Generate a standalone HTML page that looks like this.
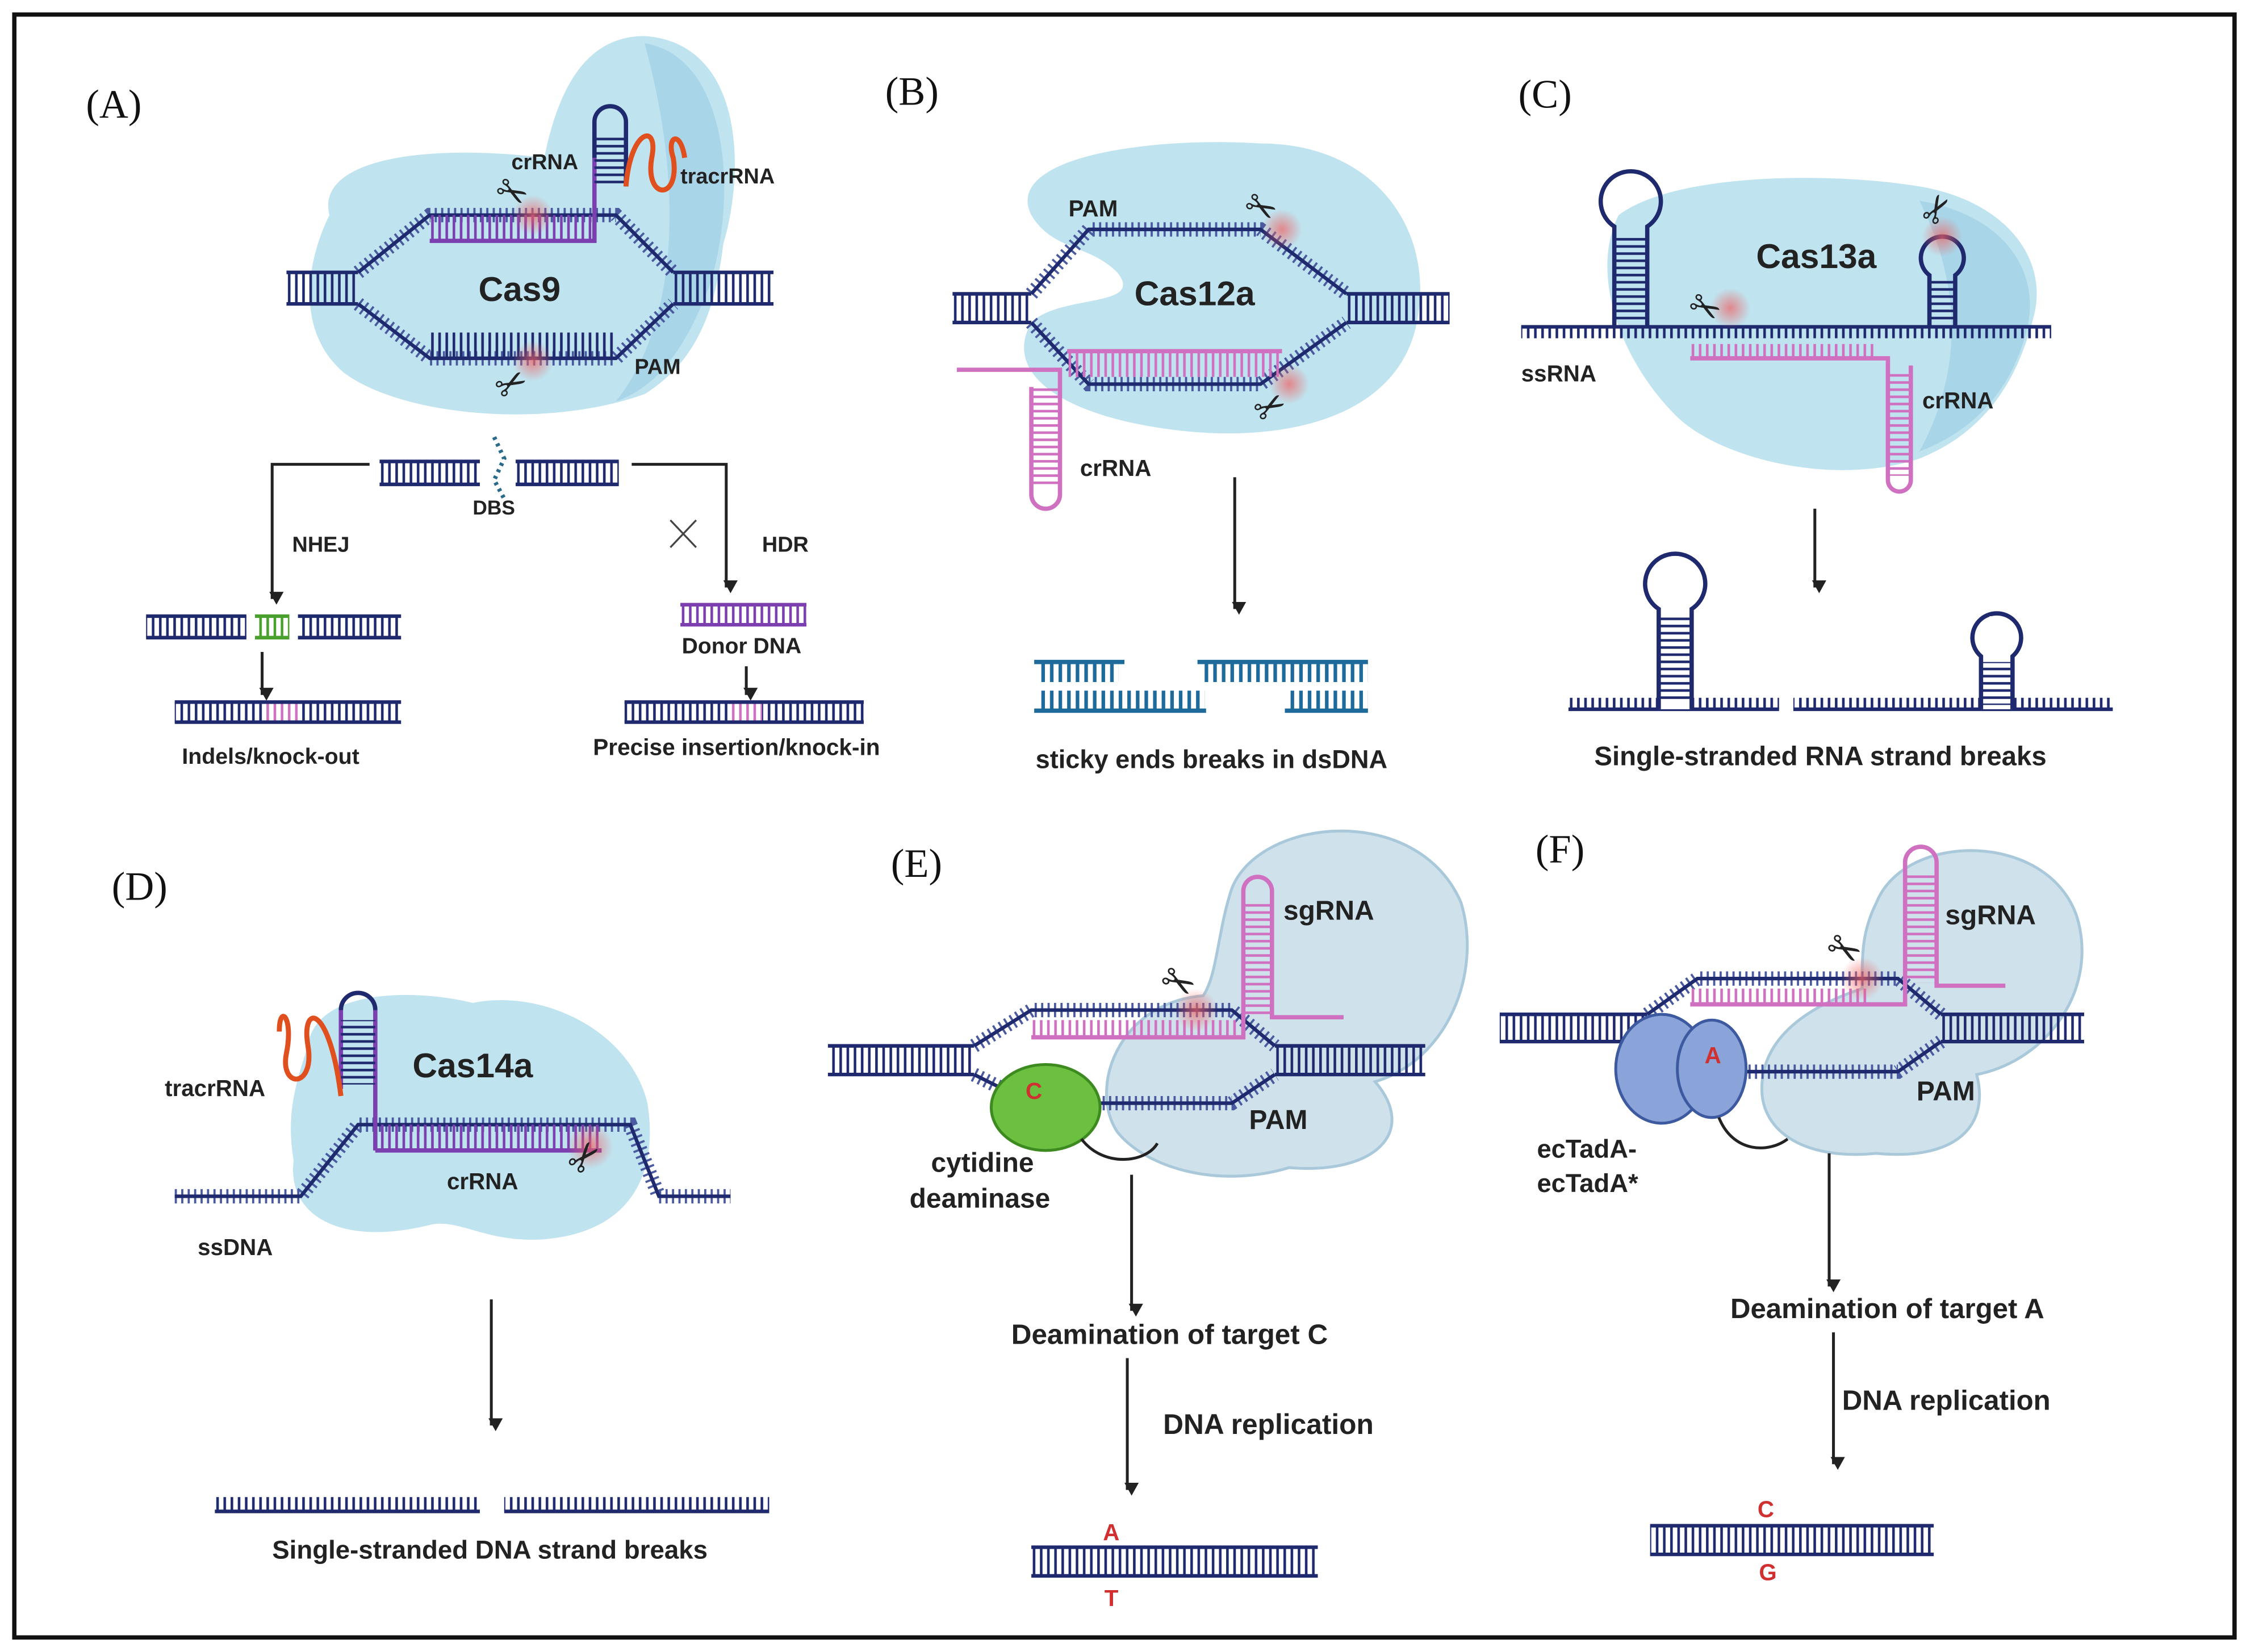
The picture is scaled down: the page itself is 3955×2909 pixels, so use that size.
<!DOCTYPE html>
<html><head><meta charset="utf-8"><style>
html,body{margin:0;padding:0;background:#fff}
svg{display:block}
text{font-family:"Liberation Sans",sans-serif;font-weight:bold;fill:#222}
.lab{font-family:"Liberation Serif",serif;font-weight:normal;font-size:28px;fill:#111}
.s{fill:none;stroke:#1f2a6e;stroke-width:2.5}
.t{fill:none;stroke:#4a5aa0;stroke-width:10;stroke-dasharray:1.5 3}
.ar{stroke:#222;stroke-width:2;fill:none;marker-end:url(#ah)}
</style></head><body>
<svg width="3955" height="2909" viewBox="0 0 1568 1153" xmlns="http://www.w3.org/2000/svg">
<defs>
<pattern id="pN" width="5" height="10" patternUnits="userSpaceOnUse"><rect x="1" width="1.8" height="10" fill="#1f2a6e"/></pattern>
<pattern id="pP" width="5" height="10" patternUnits="userSpaceOnUse"><rect x="1" width="1.8" height="10" fill="#d070c0"/></pattern>
<pattern id="pU" width="5" height="10" patternUnits="userSpaceOnUse"><rect x="1" width="1.8" height="10" fill="#7b3fb0"/></pattern>
<pattern id="pG" width="5" height="10" patternUnits="userSpaceOnUse"><rect x="1" width="1.8" height="10" fill="#4aa02c"/></pattern>
<pattern id="pB" width="6" height="10" patternUnits="userSpaceOnUse"><rect x="1" width="2.5" height="10" fill="#1e6a9a"/></pattern>
<pattern id="pH" width="10" height="5" patternUnits="userSpaceOnUse"><rect y="1" width="10" height="1.8" fill="#1f2a6e"/></pattern>
<pattern id="pHP" width="10" height="5" patternUnits="userSpaceOnUse"><rect y="1" width="10" height="1.8" fill="#d070c0"/></pattern>
<radialGradient id="glow"><stop offset="0" stop-color="#f06060" stop-opacity=".7"/><stop offset="1" stop-color="#f06060" stop-opacity="0"/></radialGradient>
<marker id="ah" markerWidth="10" markerHeight="10" refX="5" refY="8" orient="auto" viewBox="0 0 10 10" markerUnits="userSpaceOnUse"><path d="M0,0 L5,9 L10,0 Z" fill="#222" transform="rotate(-90 5 5)"/></marker>
</defs>
<rect x="10" y="10" width="1550" height="1133" fill="none" stroke="#111" stroke-width="3"/>

<!-- PANEL A -->
<text class="lab" x="60" y="82">(A)</text>
<path d="M230,150 C220,110 300,100 380,110 C390,60 410,25 450,25 C520,30 520,120 505,170 C500,210 490,250 450,275 C380,300 280,290 240,260 C205,230 215,180 230,150Z" fill="#bfe3ef"/>
<path d="M450,30 C510,40 515,140 495,200 C480,240 460,270 430,280 C470,230 480,140 450,30Z" fill="#a9d5e8"/>
<rect x="200" y="190" width="50" height="22" fill="url(#pN)"/><path class="s" d="M200,190H250M200,212H250"/>
<rect x="470" y="190" width="70" height="22" fill="url(#pN)"/><path class="s" d="M470,190H540M470,212H540"/>
<path class="t" d="M250,190L300,150H430L470,190M250,212L300,250H430L470,212"/>
<path class="s" d="M250,190L300,150H430L470,190M250,212L300,250H430L470,212"/>
<rect x="300" y="150" width="115" height="18" fill="url(#pU)"/>
<path d="M300,168H415V90" fill="none" stroke="#7b3fb0" stroke-width="3"/>
<path d="M415,110V85 A11,11 0 0 1 437,85 V130" fill="none" stroke="#1f2a6e" stroke-width="3"/>
<rect x="415" y="95" width="22" height="35" fill="url(#pH)"/>
<path d="M437,130 C440,90 460,85 455,110 C450,140 475,140 470,110 C465,95 475,90 478,110" fill="none" stroke="#e0501e" stroke-width="3.5"/>
<rect x="300" y="232" width="130" height="18" fill="url(#pN)"/>
<circle cx="372" cy="150" r="14" fill="url(#glow)"/><circle cx="372" cy="252" r="14" fill="url(#glow)"/>
<text x="345" y="145" font-size="26" style="font-weight:normal" transform="rotate(30 360 138)">✂</text>
<text x="345" y="275" font-size="26" style="font-weight:normal" transform="rotate(-30 360 265)">✂</text>
<text x="334" y="210" font-size="24">Cas9</text>
<text x="357" y="118" font-size="15">crRNA</text>
<text x="475" y="128" font-size="15">tracrRNA</text>
<text x="443" y="261" font-size="15">PAM</text>
<rect x="265" y="322" width="70" height="16" fill="url(#pN)"/><path class="s" d="M265,322H335M265,338H335"/>
<rect x="360" y="322" width="72" height="16" fill="url(#pN)"/><path class="s" d="M360,322H432M360,338H432"/>
<path d="M345,305 L352,320 L345,335 L352,348" fill="none" stroke="#2a6a8a" stroke-width="3" stroke-dasharray="2 3"/>
<text x="330" y="359" font-size="14">DBS</text>
<path d="M258,324H190V418" class="ar" stroke-width="1.3"/>
<path d="M441,324H507V410" class="ar" stroke-width="1.3"/>
<text x="204" y="385" font-size="15">NHEJ</text><text x="532" y="385" font-size="15">HDR</text>
<path d="M468,363L486,382M486,363L468,382" stroke="#444" stroke-width="1.3"/>
<rect x="102" y="430" width="70" height="15" fill="url(#pN)"/><path class="s" d="M102,430H172M102,445H172"/>
<rect x="178" y="430" width="24" height="15" fill="url(#pG)"/><path d="M178,430H202M178,445H202" stroke="#4aa02c" stroke-width="2.5"/>
<rect x="208" y="430" width="72" height="15" fill="url(#pN)"/><path class="s" d="M208,430H280M208,445H280"/>
<path d="M183,455V485" class="ar" stroke-width="1.3"/>
<rect x="122" y="490" width="158" height="14" fill="url(#pN)"/><rect x="183" y="490" width="25" height="14" fill="#fff"/><rect x="183" y="490" width="25" height="14" fill="url(#pP)"/><path class="s" d="M122,490H280M122,504H280"/>
<text x="127" y="533" font-size="15.6">Indels/knock-out</text>
<rect x="475" y="422" width="88" height="14" fill="url(#pU)"/><path d="M475,422H563M475,436H563" stroke="#7b3fb0" stroke-width="2.5"/>
<text x="476" y="456" font-size="15.5">Donor DNA</text>
<path d="M521,465V485" class="ar" stroke-width="1.3"/>
<rect x="436" y="490" width="167" height="14" fill="url(#pN)"/><rect x="508" y="490" width="24" height="14" fill="#fff"/><rect x="508" y="490" width="24" height="14" fill="url(#pP)"/><path class="s" d="M436,490H603M436,504H603"/>
<text x="414" y="527" font-size="16.1">Precise insertion/knock-in</text>

<!-- PANEL B -->
<text class="lab" x="618" y="73">(B)</text>
<path d="M720,150 C700,110 800,95 880,100 C960,100 1000,160 990,220 C980,290 900,310 820,300 C740,290 700,260 720,225 C740,205 800,215 780,190 C760,170 735,175 720,150Z" fill="#bfe3ef"/>
<rect x="665" y="205" width="55" height="20" fill="url(#pN)"/><path class="s" d="M665,205H720M665,225H720"/>
<rect x="940" y="205" width="72" height="20" fill="url(#pN)"/><path class="s" d="M940,205H1012M940,225H1012"/>
<path class="t" d="M720,205L760,160H880L940,205M720,225L760,268H880L940,225"/>
<path class="s" d="M720,205L760,160H880L940,205M720,225L760,268H880L940,225"/>
<rect x="745" y="245" width="150" height="18" fill="url(#pP)"/>
<path d="M745,245H895M668,258H740V345 A10,10 0 0 1 720,345 V270" fill="none" stroke="#d070c0" stroke-width="3"/>
<rect x="720" y="270" width="20" height="70" fill="url(#pHP)"/>
<circle cx="895" cy="160" r="14" fill="url(#glow)"/><circle cx="900" cy="268" r="14" fill="url(#glow)"/>
<text x="868" y="155" font-size="26" style="font-weight:normal" transform="rotate(30 882 148)">✂</text>
<text x="875" y="292" font-size="26" style="font-weight:normal" transform="rotate(-30 888 282)">✂</text>
<text x="792" y="213" font-size="24">Cas12a</text>
<text x="746" y="151" font-size="16">PAM</text>
<text x="754" y="332" font-size="16">crRNA</text>
<path d="M862,333V425" class="ar"/>
<path d="M722,462H785M722,496H842M836,462H955M897,496H955" stroke="#1e6a9a" stroke-width="3"/>
<rect x="726" y="462" width="55" height="14" fill="url(#pB)"/><rect x="726" y="482" width="115" height="14" fill="url(#pB)"/>
<rect x="840" y="462" width="115" height="14" fill="url(#pB)"/><rect x="900" y="482" width="55" height="14" fill="url(#pB)"/>
<text x="723" y="536" font-size="17.9">sticky ends breaks in dsDNA</text>

<!-- PANEL C -->
<text class="lab" x="1060" y="75">(C)</text>
<path d="M1130,150 C1170,120 1280,120 1340,130 C1400,140 1430,180 1420,220 C1410,260 1390,300 1340,320 C1280,340 1200,320 1170,290 C1130,250 1110,190 1130,150Z" fill="#bfe3ef"/>
<path d="M1340,140 C1400,150 1425,190 1415,230 C1405,270 1380,300 1340,315 C1370,260 1370,200 1340,140Z" fill="#a9d5e8"/>
<path d="M1062,228H1432" class="s"/><rect x="1062" y="228" width="370" height="8" fill="url(#pN)"/>
<path d="M1127,228V158 A21,21 0 1 1 1150,158 V228" fill="none" stroke="#1f2a6e" stroke-width="3"/><rect x="1127" y="165" width="23" height="60" fill="url(#pH)"/>
<path d="M1347,228V192 A15,15 0 1 1 1365,192 V228" fill="none" stroke="#1f2a6e" stroke-width="3"/><rect x="1347" y="195" width="18" height="30" fill="url(#pH)"/>
<rect x="1180" y="240" width="130" height="10" fill="url(#pP)"/>
<path d="M1180,250H1318V335 A8,8 0 0 0 1334,335 V255" fill="none" stroke="#d070c0" stroke-width="3"/>
<rect x="1318" y="260" width="16" height="72" fill="url(#pHP)"/>
<circle cx="1208" cy="215" r="14" fill="url(#glow)"/><circle cx="1356" cy="165" r="14" fill="url(#glow)"/>
<text x="1178" y="225" font-size="26" style="font-weight:normal" transform="rotate(30 1192 218)">✂</text>
<text x="1342" y="152" font-size="26" style="font-weight:normal" transform="rotate(-60 1355 145)">✂</text>
<text x="1226" y="187" font-size="24">Cas13a</text>
<text x="1062" y="266" font-size="16">ssRNA</text><text x="1342" y="285" font-size="16">crRNA</text>
<path d="M1267,355V410" class="ar"/>
<path d="M1095,495H1242M1252,495H1475" class="s"/><rect x="1095" y="487" width="147" height="8" fill="url(#pN)"/><rect x="1252" y="487" width="223" height="8" fill="url(#pN)"/>
<path d="M1158,495V425 A21,21 0 1 1 1181,425 V495" fill="#fff" stroke="#1f2a6e" stroke-width="3"/><rect x="1158" y="430" width="23" height="60" fill="url(#pH)"/>
<path d="M1383,495V458 A17,17 0 1 1 1405,458 V495" fill="#fff" stroke="#1f2a6e" stroke-width="3"/><rect x="1383" y="462" width="22" height="30" fill="url(#pH)"/><rect x="1389" y="430" width="8" height="8" fill="#fff"/>
<text x="1113" y="534" font-size="18.8">Single-stranded RNA strand breaks</text>

<!-- PANEL D -->
<text class="lab" x="78" y="628">(D)</text>
<path d="M215,730 C220,690 290,690 330,700 C380,690 440,720 452,770 C460,820 440,860 380,865 C340,868 320,850 300,855 C240,870 200,850 205,810 C200,780 205,760 215,730Z" fill="#bfe3ef"/>
<path d="M122,835H210L250,785H440L460,835H510" class="t"/><path d="M122,835H210L250,785H440L460,835H510" class="s"/>
<rect x="260" y="785" width="160" height="18" fill="url(#pU)"/>
<path d="M262,803H420M262,803V705 A12,12 0 0 0 238,705 V760" fill="none" stroke="#7b3fb0" stroke-width="3"/>
<path d="M238,705 A12,12 0 0 1 262,705" fill="none" stroke="#1f2a6e" stroke-width="3"/>
<rect x="238" y="712" width="24" height="45" fill="url(#pH)"/>
<path d="M238,765 C230,700 210,700 215,730 C220,760 195,760 200,735 C205,710 195,700 195,720" fill="none" stroke="#e0501e" stroke-width="3.5"/>
<circle cx="412" cy="800" r="16" fill="url(#glow)"/>
<text x="395" y="815" font-size="28" style="font-weight:normal" transform="rotate(-50 410 805)">✂</text>
<text x="288" y="752" font-size="24">Cas14a</text>
<text x="312" y="830" font-size="16">crRNA</text><text x="115" y="765" font-size="16">tracrRNA</text><text x="138" y="876" font-size="16">ssDNA</text>
<path d="M343,907V995" class="ar"/>
<path d="M150,1055H335M352,1055H537" class="s"/><rect x="150" y="1045" width="185" height="10" fill="url(#pN)"/><rect x="352" y="1045" width="185" height="10" fill="url(#pN)"/>
<text x="190" y="1088" font-size="18.1">Single-stranded DNA strand breaks</text>

<!-- PANEL E -->
<text class="lab" x="622" y="612">(E)</text>
<path d="M860,620 C880,570 990,560 1020,630 C1035,680 1010,740 960,755 C990,790 960,820 900,815 C850,830 800,815 780,790 C760,760 780,700 840,695 C850,680 850,650 860,620Z" fill="#cfe2ec" stroke="#a9c9db" stroke-width="2"/>
<rect x="578" y="730" width="102" height="20" fill="url(#pN)"/><path class="s" d="M578,730H680M578,750H680"/>
<rect x="890" y="730" width="105" height="20" fill="url(#pN)"/><path class="s" d="M890,730H995M890,750H995"/>
<path class="t" d="M680,730L720,705H860L890,730M680,750L720,770H860L890,750"/>
<path class="s" d="M680,730L720,705H860L890,730M680,750L720,770H860L890,750"/>
<rect x="720" y="712" width="145" height="12" fill="url(#pP)"/>
<path d="M720,724H868V622 A10,10 0 0 1 888,622 V710H938" fill="none" stroke="#d070c0" stroke-width="3"/>
<rect x="868" y="630" width="20" height="78" fill="url(#pHP)"/>
<circle cx="835" cy="705" r="15" fill="url(#glow)"/>
<text x="810" y="697" font-size="28" style="font-weight:normal" transform="rotate(30 825 688)">✂</text>
<text x="896" y="642" font-size="19">sgRNA</text><text x="872" y="788" font-size="19">PAM</text>
<ellipse cx="730" cy="773" rx="38" ry="30" fill="#6cc040" stroke="#3d8a20" stroke-width="2"/>
<text x="716" y="767" font-size="16" style="fill:#d03030">C</text>
<path d="M755,795 C770,815 800,812 808,798" fill="none" stroke="#222" stroke-width="2"/>
<text x="650" y="818" font-size="19">cytidine</text><text x="635" y="843" font-size="19">deaminase</text>
<path d="M790,820V915" class="ar" stroke-width="2.5"/>
<text x="706" y="938" font-size="19.6">Deamination of target C</text>
<path d="M787,948V1040" class="ar" stroke-width="2.5"/>
<text x="812" y="1001" font-size="19.7">DNA replication</text>
<rect x="720" y="1080" width="200" height="20" fill="url(#pN)"/><path class="s" d="M720,1080H920M720,1100H920"/>
<text x="770" y="1075" font-size="16" style="fill:#d03030">A</text><text x="771" y="1121" font-size="16" style="fill:#d03030">T</text>

<!-- PANEL F -->
<text class="lab" x="1072" y="602">(F)</text>
<path d="M1310,630 C1330,580 1430,580 1450,640 C1465,690 1430,740 1380,750 C1390,790 1360,810 1310,805 C1260,810 1230,790 1230,760 C1230,720 1270,700 1300,690 C1300,665 1300,650 1310,630Z" fill="#cfe2ec" stroke="#a9c9db" stroke-width="2"/>
<rect x="1047" y="708" width="103" height="19" fill="url(#pN)"/><path class="s" d="M1047,708H1150M1047,727H1150"/>
<rect x="1355" y="708" width="100" height="19" fill="url(#pN)"/><path class="s" d="M1355,708H1455M1355,727H1455"/>
<path class="t" d="M1150,708L1185,683H1325L1355,708M1150,727L1185,748H1325L1355,727"/>
<path class="s" d="M1150,708L1185,683H1325L1355,708M1150,727L1185,748H1325L1355,727"/>
<rect x="1180" y="690" width="125" height="11" fill="url(#pP)"/>
<path d="M1180,701H1330V602 A11,11 0 0 1 1352,602 V688H1400" fill="none" stroke="#d070c0" stroke-width="3"/>
<rect x="1330" y="610" width="22" height="76" fill="url(#pHP)"/>
<circle cx="1300" cy="683" r="15" fill="url(#glow)"/>
<text x="1275" y="674" font-size="28" style="font-weight:normal" transform="rotate(30 1290 665)">✂</text>
<text x="1358" y="645" font-size="19">sgRNA</text><text x="1338" y="768" font-size="19">PAM</text>
<ellipse cx="1160" cy="746" rx="32" ry="38" fill="#8aa3d8" stroke="#3d5aa0" stroke-width="2"/>
<ellipse cx="1195" cy="746" rx="24" ry="34" fill="#8aa3d8" stroke="#3d5aa0" stroke-width="2"/>
<text x="1190" y="742" font-size="16" style="fill:#d03030">A</text>
<path d="M1200,780 C1210,805 1235,805 1248,795" fill="none" stroke="#222" stroke-width="2"/>
<text x="1073" y="808" font-size="18">ecTadA-</text><text x="1073" y="832" font-size="18">ecTadA*</text>
<path d="M1277,805V898" class="ar" stroke-width="2.5"/>
<text x="1208" y="920" font-size="19.5">Deamination of target A</text>
<path d="M1280,930V1022" class="ar" stroke-width="2.5"/>
<text x="1286" y="984" font-size="19.5">DNA replication</text>
<rect x="1152" y="1065" width="198" height="20" fill="url(#pN)"/><path class="s" d="M1152,1065H1350M1152,1085H1350"/>
<text x="1227" y="1059" font-size="16" style="fill:#d03030">C</text><text x="1228" y="1103" font-size="16" style="fill:#d03030">G</text>
</svg>
</body></html>
